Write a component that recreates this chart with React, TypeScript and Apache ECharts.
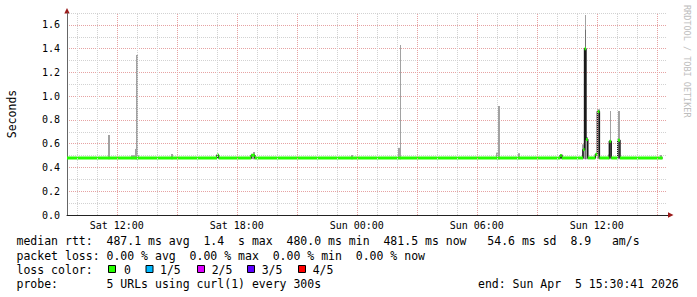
import React, { useEffect, useRef } from 'react';
import * as echarts from 'echarts';

// time axis: hours since Sat 00:00
const startHour = 9.5114; // Sat 09:30:41
const endHour = 39.5114; // Sun 15:30:41
const xLabelHours = [12, 18, 24, 30, 36];
const gridHours = [10, 11, 12, 13, 14, 15, 16, 17, 18, 19, 20, 21, 22, 23, 24, 25, 26, 27, 28, 29, 30, 31, 32, 33, 34, 35, 36, 37, 38, 39];
const yMax = 1.7;

// median rtt (seconds): [hour where value starts, value]
const medianSteps: [number, number][] = [
  [9.5114, 0.48],
  [17.01, 0.505],
  [17.09, 0.48],
  [18.72, 0.503],
  [18.9, 0.48],
  [34.17, 0.5],
  [34.25, 0.48],
  [35.31, 0.55],
  [35.39, 1.4],
  [35.46, 0.635],
  [35.55, 0.48],
  [35.93, 0.51],
  [36.03, 0.87],
  [36.13, 0.48],
  [36.63, 0.62],
  [36.72, 0.48],
  [37.05, 0.63],
  [37.16, 0.48],
];
const medianEnd = 39.29;

// smoke: [hourFrom, hourTo, low, high, shade]
const smoke: [number, number, number, number, number][] = [
  [11.56, 11.65, 0.47, 0.674, 0],
  [12.71, 13.11, 0.47, 0.503, 0],
  [12.9, 13.05, 0.47, 0.556, 0],
  [12.95, 13.05, 0.47, 1.347, 0],
  [14.71, 14.8, 0.47, 0.514, 0],
  [18.71, 18.91, 0.47, 0.505, 0],
  [18.8, 18.9, 0.47, 0.53, 0],
  [23.71, 23.81, 0.47, 0.505, 0],
  [26.06, 26.2, 0.47, 0.565, 0],
  [26.16, 26.21, 0.47, 1.43, 0],
  [30.95, 31.15, 0.47, 0.525, 0],
  [31.05, 31.15, 0.47, 0.918, 0],
  [32.05, 32.15, 0.47, 0.52, 0],
  [34.16, 34.31, 0.47, 0.51, 0],
  [35.26, 35.4, 0.47, 0.595, 0],
  [35.39, 35.46, 0.47, 1.684, 0],
  [35.39, 35.46, 0.47, 1.56, 1],
  [35.46, 35.55, 0.47, 0.657, 0],
  [36.01, 36.16, 0.47, 0.89, 0],
  [36.58, 36.64, 0.47, 0.51, 0],
  [36.64, 36.73, 0.47, 0.876, 0],
  [37.06, 37.16, 0.47, 0.876, 0],
  [39.18, 39.28, 0.47, 0.505, 0],
];

const lossLabels = ['0', '1/5', '2/5', '3/5', '4/5'];
const lossColors = ['#26ff00', '#00b8ff', '#dd00ff', '#5e00ff', '#ff0000'];

const rttLine = 'median rtt:  487.1 ms avg  1.4  s max  480.0 ms min  481.5 ms now   54.6 ms sd  8.9   am/s';
const lossLine = 'packet loss: 0.00 % avg  0.00 % max  0.00 % min  0.00 % now';
const lossColorTitle = 'loss color:';
const probeLine = 'probe:       5 URLs using curl(1) every 300s';
const endLine = 'end: Sun Apr  5 15:30:41 2026';
const yTitle = 'Seconds';
const watermark = 'RRDTOOL / TOBI OETIKER';

const FONT = '"DejaVu Sans Mono", monospace';
const GRID = '#d2d2d2';
const MGRID = '#e6a3a3';
const ARROW = '#9b1b1b';

export default function App() {
  const ref = useRef<HTMLDivElement>(null);
  useEffect(() => {
    const chart = echarts.init(ref.current!, null, { renderer: 'svg' });
    const lastVal = medianSteps[medianSteps.length - 1][1];
    const medianPts = [...medianSteps, [medianEnd, lastVal]];
    const greenSegs = medianSteps.map((s, i) => [
      s[0],
      i + 1 < medianSteps.length ? medianSteps[i + 1][0] : medianEnd,
      s[1],
    ]);
    const gridLines = gridHours.map((h) => ({
      xAxis: h,
      lineStyle: { color: h % 3 === 0 ? MGRID : GRID, type: [1, 1], width: 1 },
    }));
    const legendFont = `11.5px ${FONT}`;
    const txt = (text: string, x: number, y: number, extra: any = {}) => ({
      type: 'text',
      x,
      y,
      silent: true,
      style: { text, font: legendFont, fill: '#000', verticalAlign: 'middle', ...extra },
    });
    const boxX = [108.5, 146, 197.5, 247.5, 298.5];
    const boxTextX = [124, 160, 211.7, 261.7, 312.7];
    const graphic: any[] = [
      txt(rttLine, 16.5, 241),
      txt(lossLine, 16.5, 255.5),
      txt(lossColorTitle, 16.5, 269.5),
      txt(probeLine, 16.5, 283.5),
      txt(endLine, 478, 283.5),
      {
        type: 'text',
        x: 687,
        y: 5,
        rotation: -Math.PI / 2,
        silent: true,
        style: { text: watermark, font: `8.5px ${FONT}`, fill: '#bdbdbd', verticalAlign: 'middle' },
      },
      {
        type: 'polygon',
        silent: true,
        shape: { points: [[67, 8], [64.3, 13.5], [69.7, 13.5]] },
        style: { fill: ARROW },
      },
      {
        type: 'polygon',
        silent: true,
        shape: { points: [[673.5, 215], [668, 212.3], [668, 217.7]] },
        style: { fill: ARROW },
      },
      {
        type: 'line',
        silent: true,
        shape: { x1: 667, y1: 215.5, x2: 668, y2: 215.5 },
        style: { stroke: '#222', lineWidth: 1 },
      },
    ];
    lossColors.forEach((c, i) => {
      graphic.push({
        type: 'rect',
        silent: true,
        shape: { x: boxX[i], y: 265.5, width: 7, height: 7 },
        style: { fill: c, stroke: '#000', lineWidth: 1 },
      });
      graphic.push(txt(lossLabels[i], boxTextX[i], 269.5));
    });

    chart.setOption({
      animation: false,
      backgroundColor: '#fff',
      grid: { left: 67, top: 13, width: 600, height: 202, containLabel: false, outerBoundsMode: 'none' },
      xAxis: {
        type: 'value',
        min: startHour,
        max: endHour,
        axisLine: { show: true, lineStyle: { color: '#222', width: 1 } },
        axisTick: { show: false },
        splitLine: { show: false },
        axisLabel: {
          customValues: xLabelHours,
          margin: 5,
          fontFamily: FONT,
          fontSize: 10,
          color: '#000',
          formatter: (h: number) => {
            const day = h < 24 ? 'Sat' : 'Sun';
            const hh = Math.round(h % 24);
            return `${day} ${hh < 10 ? '0' + hh : hh}:00`;
          },
        },
      },
      yAxis: {
        type: 'value',
        min: 0,
        max: yMax,
        interval: 0.1,
        name: yTitle,
        nameLocation: 'middle',
        nameRotate: 90,
        nameGap: 49,
        nameTextStyle: { fontFamily: FONT, fontSize: 11.5, color: '#000' },
        axisLine: { show: true, lineStyle: { color: '#666', width: 1 } },
        axisTick: { show: false },
        axisLabel: {
          margin: 7,
          fontFamily: FONT,
          fontSize: 10,
          color: '#000',
          showMaxLabel: false,
          formatter: (v: number) => (Math.round(v * 10) % 2 === 0 ? v.toFixed(1) : ''),
        },
        splitLine: { show: true, lineStyle: { color: [MGRID, GRID], type: [1, 1], width: 1 } },
      },
      graphic,
      series: [
        {
          type: 'line',
          data: [],
          z: 1,
          silent: true,
          markLine: {
            silent: true,
            symbol: ['none', 'none'],
            label: { show: false },
            animation: false,
            data: gridLines,
          },
        },
        {
          type: 'custom',
          z: 2,
          silent: true,
          encode: { x: [0, 1], y: [2, 3] },
          data: smoke,
          renderItem: (params: any, api: any) => {
            const p0 = api.coord([api.value(0), api.value(3)]);
            const p1 = api.coord([api.value(1), api.value(2)]);
            const x0 = Math.round(p0[0]);
            const x1 = Math.max(x0 + 1, Math.round(p1[0]));
            return {
              type: 'rect',
              shape: { x: x0, y: p0[1], width: x1 - x0, height: p1[1] - p0[1] },
              style: { fill: api.value(4) ? '#707070' : '#a2a2a2' },
            };
          },
        },
        {
          type: 'line',
          z: 3,
          silent: true,
          step: 'end',
          symbol: 'none',
          data: medianPts,
          lineStyle: { color: '#1a1a1a', width: 1.5 },
        },
        {
          type: 'custom',
          z: 4,
          silent: true,
          encode: { x: [0, 1], y: 2 },
          data: greenSegs,
          renderItem: (params: any, api: any) => {
            const p0 = api.coord([api.value(0), api.value(2)]);
            const p1 = api.coord([api.value(1), api.value(2)]);
            return {
              type: 'line',
              shape: { x1: p0[0], y1: p0[1], x2: p1[0], y2: p1[1] },
              style: { stroke: lossColors[0], lineWidth: 3 },
            };
          },
        },
      ],
    });
    return () => chart.dispose();
  }, []);
  return <div ref={ref} style={{ position: 'fixed', left: 0, top: 0, width: 697, height: 297 }} />;
}
